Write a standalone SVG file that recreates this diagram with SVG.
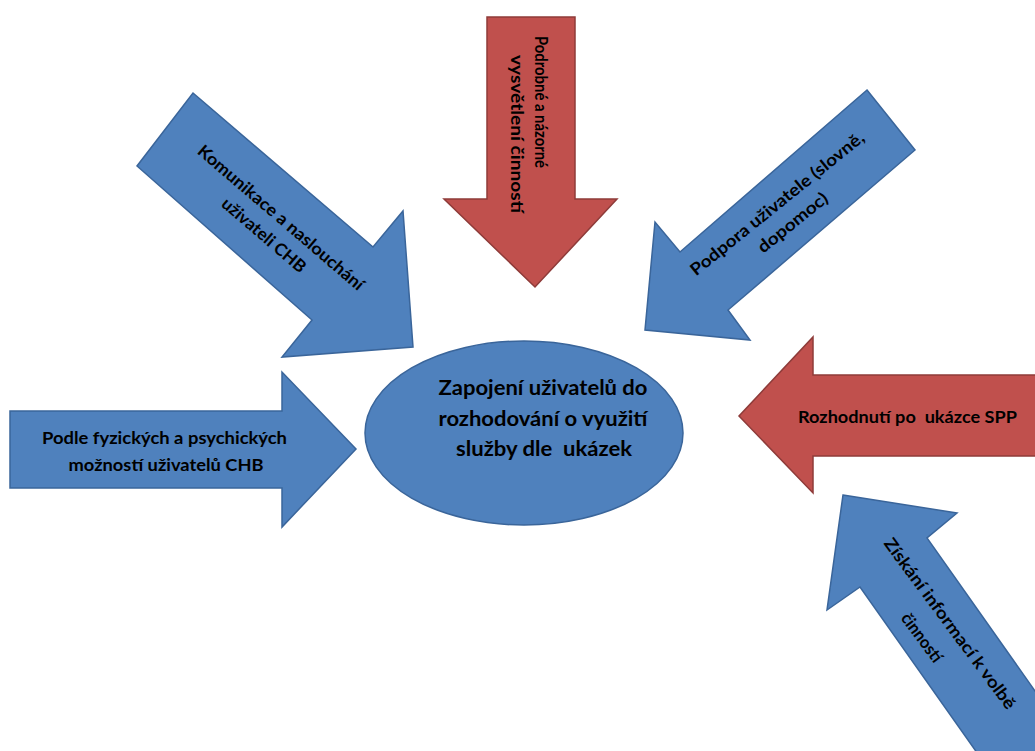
<svg xmlns="http://www.w3.org/2000/svg" width="1035" height="751" viewBox="0 0 1035 751">
<style>
.blue{fill:#4F81BD;stroke:#3A659A;stroke-width:1.5;stroke-linejoin:miter}
.red{fill:#C0504D;stroke:#8E3B39;stroke-width:1.5;stroke-linejoin:miter}
text{font-family:Lato,"Liberation Sans",sans-serif;font-weight:700;fill:#000;text-anchor:middle}
.s{font-size:17px}
.t{font-size:16.5px}
.l{font-size:20.5px}
</style>
<rect width="1035" height="751" fill="#fff"/>
<g id="connectors">
<g id="arrow-top">
<polygon class="red" points="487,17 575,17 575,199 617,199 535,287 444,199 487,199"/>
<text class="t" transform="translate(541,102) rotate(90)" y="6" textLength="132" lengthAdjust="spacingAndGlyphs">Podrobné a názorné</text>
<text class="t" transform="translate(517,134) rotate(90)" y="6" textLength="158" lengthAdjust="spacingAndGlyphs">vysvětlení činností</text>
</g>
<g id="arrow-comm">
<polygon class="blue" points="193,93 373,247 403,211 413,347 282,357 312,320 137,166"/>
<text class="s" transform="translate(281,217.5) rotate(40.6)" y="6" textLength="213" lengthAdjust="spacingAndGlyphs">Komunikace a naslouchání</text>
<text class="s" transform="translate(264,235) rotate(40.6)" y="6" textLength="105" lengthAdjust="spacingAndGlyphs">uživateli CHB</text>
</g>
<g id="arrow-support">
<polygon class="blue" points="867,90 915,150 728,310 750,340 645,330 655,222 680,252"/>
<text class="s" transform="translate(777,203.5) rotate(-38.9)" y="6" textLength="218" lengthAdjust="spacingAndGlyphs">Podpora uživatele (slovně,</text>
<text class="s" transform="translate(792.5,222.5) rotate(-38.9)" y="6" textLength="85" lengthAdjust="spacingAndGlyphs">dopomoc)</text>
</g>
<g id="arrow-left">
<polygon class="blue" points="10,411 282,411 282,372 356,449 282,527 282,488 10,488"/>
<text class="s" x="164.5" y="444" textLength="245" lengthAdjust="spacingAndGlyphs">Podle fyzických a psychických</text>
<text class="s" x="166" y="471" textLength="195" lengthAdjust="spacingAndGlyphs">možností uživatelů CHB</text>
</g>
<g id="arrow-right">
<polygon class="red" points="1045,375 813,375 813,337 739,416 813,493 813,456 1045,456"/>
<text class="s" x="907.5" y="423" textLength="219" lengthAdjust="spacingAndGlyphs" xml:space="preserve">Rozhodnutí po  ukázce SPP</text>
</g>
<g id="arrow-info">
<polygon class="blue" points="843,495 957,513 927,538 1100,783 1004,791 860,587 827,610"/>
<text class="s" transform="translate(950,623.5) rotate(53.4)" y="6" textLength="208" lengthAdjust="spacingAndGlyphs">Získání informací k volbě</text>
<text class="s" transform="translate(922,637.5) rotate(53.4)" y="6" textLength="57" lengthAdjust="spacingAndGlyphs">činností</text>
</g>
</g>
<g id="center">
<ellipse class="blue" cx="524" cy="433" rx="159" ry="92"/>
<text class="l" x="543" y="395" textLength="209" lengthAdjust="spacingAndGlyphs">Zapojení uživatelů do</text>
<text class="l" x="543" y="426" textLength="209" lengthAdjust="spacingAndGlyphs">rozhodování o využití</text>
<text class="l" x="544" y="456" textLength="176" lengthAdjust="spacingAndGlyphs" xml:space="preserve">služby dle  ukázek</text>
</g>
</svg>
